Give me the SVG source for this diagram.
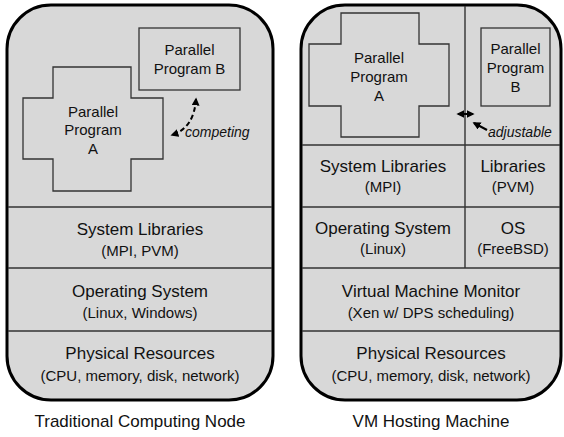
<svg xmlns="http://www.w3.org/2000/svg" width="564" height="437" viewBox="0 0 564 437">
<defs>
<style>
.box{fill:#d8d8d8;stroke:#000;stroke-width:3}
.ln{stroke:#333;stroke-width:1.4;fill:none}
.sh{fill:#d8d8d8;stroke:#333;stroke-width:1.3}
text{font-family:"Liberation Sans",Arial,sans-serif;fill:#111;text-anchor:middle}
.t{font-size:17px}
.s{font-size:15px}
.p{font-size:15px}
.i{font-size:14px;font-style:italic;text-anchor:start}
.c{font-size:17px}
.ar{stroke:#000;stroke-width:2;fill:none}
</style>
<marker id="ah" viewBox="0 0 10 10" refX="8" refY="5" markerWidth="4" markerHeight="4" orient="auto-start-reverse" markerUnits="strokeWidth">
<path d="M0,0 L10,5 L0,10 z" fill="#000"/>
</marker>
</defs>
<rect width="564" height="437" fill="#fff"/>
<g id="traditional-node">
<rect class="box" x="7" y="5" width="266" height="395" rx="44"/>
</g>
<g id="vm-host">
<rect class="box" x="301" y="5" width="260" height="395" rx="44"/>
</g>
<g id="dividers">
<line class="ln" x1="8" y1="207" x2="272" y2="207"/>
<line class="ln" x1="8" y1="268" x2="272" y2="268"/>
<line class="ln" x1="8" y1="331" x2="272" y2="331"/>
<line class="ln" x1="302" y1="145" x2="560" y2="145"/>
<line class="ln" x1="302" y1="207" x2="560" y2="207"/>
<line class="ln" x1="302" y1="268" x2="560" y2="268"/>
<line class="ln" x1="302" y1="331" x2="560" y2="331"/>
<line class="ln" x1="465" y1="6" x2="465" y2="268"/>
</g>
<g id="left-prog-a">
<polygon class="sh" points="53,67 131,67 131,98 163,98 163,159 131,159 131,191 53,191 53,159 23,159 23,98 53,98"/>
<text class="p" x="93" y="117">Parallel</text>
<text class="p" x="93" y="135">Program</text>
<text class="p" x="93" y="154">A</text>
</g>
<g id="left-prog-b">
<rect class="sh" x="139" y="28" width="101" height="62"/>
<text class="p" x="189.5" y="55">Parallel</text>
<text class="p" x="189.5" y="74">Program B</text>
</g>
<g id="left-syslib">
<text class="t" x="140" y="235">System Libraries</text>
<text class="s" x="140" y="256">(MPI, PVM)</text>
</g>
<g id="left-os">
<text class="t" x="140" y="297">Operating System</text>
<text class="s" x="140" y="318">(Linux, Windows)</text>
</g>
<g id="left-phys">
<text class="t" x="140" y="359">Physical Resources</text>
<text class="s" x="140" y="381">(CPU, memory, disk, network)</text>
</g>
<g id="right-prog-a">
<polygon class="sh" points="341,13 419,13 419,44 449,44 449,106 419,106 419,137 341,137 341,106 309,106 309,44 341,44"/>
<text class="p" x="379" y="63">Parallel</text>
<text class="p" x="379" y="82">Program</text>
<text class="p" x="379" y="101">A</text>
</g>
<g id="right-prog-b">
<rect class="sh" x="481" y="28" width="69" height="78"/>
<text class="p" x="515.5" y="54">Parallel</text>
<text class="p" x="515.5" y="73">Program</text>
<text class="p" x="515.5" y="92">B</text>
</g>
<g id="right-syslib">
<text class="t" x="383" y="172">System Libraries</text>
<text class="s" x="383" y="192">(MPI)</text>
</g>
<g id="right-lib">
<text class="t" x="513" y="172">Libraries</text>
<text class="s" x="513" y="192">(PVM)</text>
</g>
<g id="right-os">
<text class="t" x="383" y="234">Operating System</text>
<text class="s" x="383" y="254">(Linux)</text>
</g>
<g id="right-os2">
<text class="t" x="513" y="234">OS</text>
<text class="s" x="513" y="254">(FreeBSD)</text>
</g>
<g id="right-vmm">
<text class="t" x="431" y="297">Virtual Machine Monitor</text>
<text class="s" x="431" y="318">(Xen w/ DPS scheduling)</text>
</g>
<g id="right-phys">
<text class="t" x="431" y="359">Physical Resources</text>
<text class="s" x="431" y="381">(CPU, memory, disk, network)</text>
</g>
<g id="connectors">
<path class="ar" d="M196,99 Q194,128 172,135" stroke-dasharray="5,3" marker-start="url(#ah)" marker-end="url(#ah)"/>
<line class="ar" x1="458" y1="114" x2="473" y2="114" marker-start="url(#ah)" marker-end="url(#ah)"/>
<line class="ar" x1="487" y1="130" x2="474" y2="123" marker-end="url(#ah)"/>
</g>
<g id="labels">
<text class="i" x="185" y="137">competing</text>
<text class="i" x="488" y="137">adjustable</text>
<text class="c" x="140" y="427">Traditional Computing Node</text>
<text class="c" x="431" y="427">VM Hosting Machine</text>
</g>
</svg>
